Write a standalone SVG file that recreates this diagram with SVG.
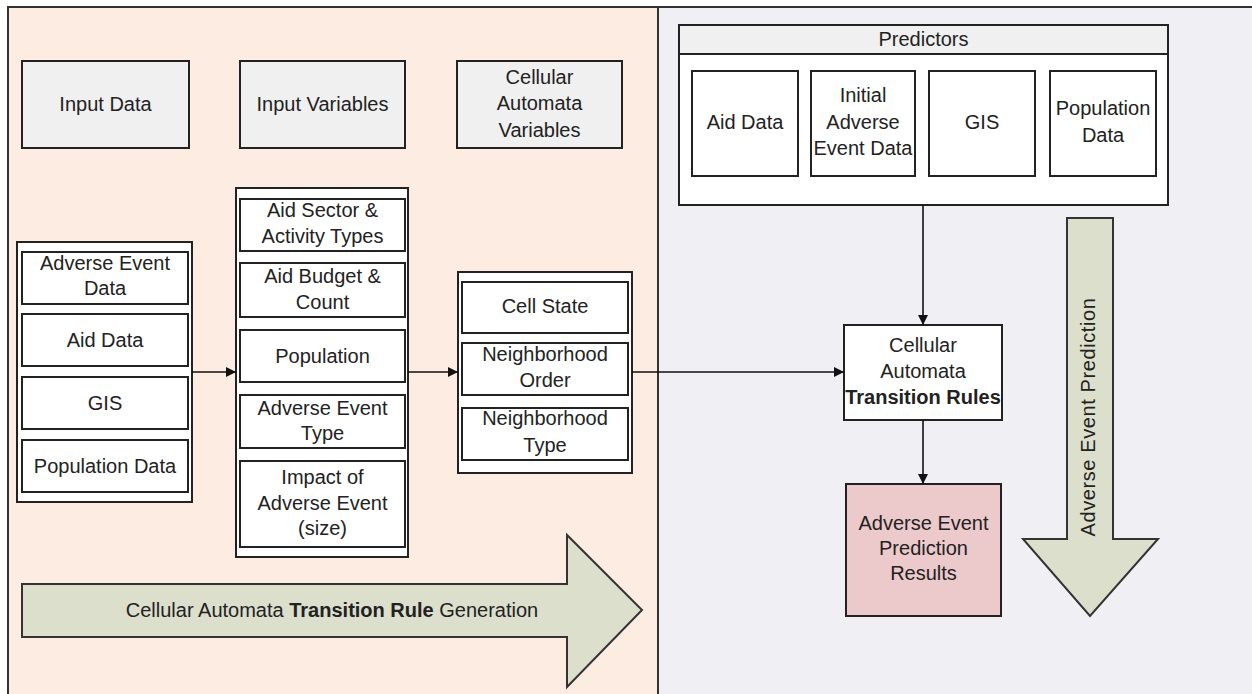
<svg xmlns="http://www.w3.org/2000/svg" width="1252" height="694" viewBox="0 0 1252 694">
<defs>
<style>
.t{font-family:"Liberation Sans",Arial,sans-serif;font-size:20px;fill:#222;text-anchor:middle}
.b{font-weight:bold}
.box{fill:#fff;stroke:#222;stroke-width:2}
.hdr{fill:#f0f0f0;stroke:#222;stroke-width:2}
.cont{fill:#fff;stroke:#222;stroke-width:2}
.big{fill:#dcdfcc;stroke:#333;stroke-width:2}
.con{stroke:#111;stroke-width:1.6;fill:none;marker-end:url(#ah)}
</style>
<marker id="ah" viewBox="0 0 10 10" refX="10" refY="5" markerWidth="10" markerHeight="10" markerUnits="userSpaceOnUse" orient="auto">
<path d="M0,0 L10,5 L0,10 z" fill="#111"/>
</marker>
</defs>
<rect x="0" y="0" width="1252" height="694" fill="#fff"/>
<rect x="8" y="7" width="650" height="687" fill="#fcece2"/>
<rect x="658" y="7" width="594" height="687" fill="#efeff4"/>
<path d="M8,694 V7 H1252 M658,7 V694" stroke="#333" stroke-width="2" fill="none"/>

<g id="input-data-header">
<rect class="hdr" x="22" y="61" width="167" height="87"/>
<text class="t" x="105.5" y="111">Input Data</text>
</g>
<g id="input-variables-header">
<rect class="hdr" x="240" y="61" width="165" height="87"/>
<text class="t" x="322.5" y="111">Input Variables</text>
</g>
<g id="ca-variables-header">
<rect class="hdr" x="457" y="61" width="165" height="87"/>
<text class="t" x="539.5" y="84">Cellular</text>
<text class="t" x="539.5" y="110">Automata</text>
<text class="t" x="539.5" y="137">Variables</text>
</g>

<g id="input-data">
<rect class="cont" x="17" y="242" width="175" height="260"/>
<rect class="box" x="22" y="252" width="166" height="52"/>
<text class="t" x="105" y="270">Adverse Event</text>
<text class="t" x="105" y="295">Data</text>
<rect class="box" x="22" y="314" width="166" height="52"/>
<text class="t" x="105" y="347">Aid Data</text>
<rect class="box" x="22" y="377" width="166" height="52"/>
<text class="t" x="105" y="410">GIS</text>
<rect class="box" x="22" y="440" width="166" height="52"/>
<text class="t" x="105" y="473">Population Data</text>
</g>

<g id="input-variables">
<rect class="cont" x="236" y="188" width="172" height="369"/>
<rect class="box" x="240" y="199" width="165" height="52"/>
<text class="t" x="322.5" y="217">Aid Sector &amp;</text>
<text class="t" x="322.5" y="243">Activity Types</text>
<rect class="box" x="240" y="263" width="165" height="54"/>
<text class="t" x="322.5" y="283">Aid Budget &amp;</text>
<text class="t" x="322.5" y="309">Count</text>
<rect class="box" x="240" y="330" width="165" height="52"/>
<text class="t" x="322.5" y="363">Population</text>
<rect class="box" x="240" y="395" width="165" height="53"/>
<text class="t" x="322.5" y="415">Adverse Event</text>
<text class="t" x="322.5" y="440">Type</text>
<rect class="box" x="240" y="461" width="165" height="86"/>
<text class="t" x="322.5" y="484">Impact of</text>
<text class="t" x="322.5" y="510">Adverse Event</text>
<text class="t" x="322.5" y="535">(size)</text>
</g>

<g id="ca-variables">
<rect class="cont" x="458" y="272" width="174" height="201"/>
<rect class="box" x="462" y="282" width="166" height="51"/>
<text class="t" x="545" y="313">Cell State</text>
<rect class="box" x="462" y="343" width="166" height="52"/>
<text class="t" x="545" y="361">Neighborhood</text>
<text class="t" x="545" y="387">Order</text>
<rect class="box" x="462" y="408" width="166" height="52"/>
<text class="t" x="545" y="425">Neighborhood</text>
<text class="t" x="545" y="452">Type</text>
</g>

<g id="predictors">
<rect class="cont" x="679" y="25" width="489" height="180"/>
<rect class="hdr" x="679" y="25" width="489" height="29"/>
<text class="t" x="923.5" y="46">Predictors</text>
<rect class="box" x="692" y="71" width="106" height="105"/>
<text class="t" x="745" y="129">Aid Data</text>
<rect class="box" x="811" y="71" width="104" height="105"/>
<text class="t" x="863" y="102">Initial</text>
<text class="t" x="863" y="129">Adverse</text>
<text class="t" x="863" y="155">Event Data</text>
<rect class="box" x="929" y="71" width="106" height="105"/>
<text class="t" x="982" y="129">GIS</text>
<rect class="box" x="1050" y="71" width="106" height="105"/>
<text class="t" x="1103" y="115">Population</text>
<text class="t" x="1103" y="142">Data</text>
</g>

<g id="transition-rules">
<rect class="box" x="844" y="325" width="158" height="95"/>
<text class="t" x="923" y="352">Cellular</text>
<text class="t" x="923" y="378">Automata</text>
<text class="t b" x="923" y="404">Transition Rules</text>
</g>

<g id="results">
<rect x="846" y="484" width="155" height="132" fill="#ecc9ca" stroke="#222" stroke-width="2"/>
<text class="t" x="923.5" y="530">Adverse Event</text>
<text class="t" x="923.5" y="555">Prediction</text>
<text class="t" x="923.5" y="580">Results</text>
</g>

<g id="generation-arrow">
<path class="big" d="M22,584 H567 V535 L642,610 L567,687 V637 H22 Z"/>
<text class="t" x="332" y="617">Cellular Automata <tspan class="b">Transition Rule</tspan> Generation</text>
</g>

<g id="prediction-arrow">
<path class="big" d="M1067,218 H1113 V539 H1158 L1090,616 L1023,539 H1067 Z"/>
<text class="t" x="1095" y="417" transform="rotate(-90 1095 417)" style="letter-spacing:0.6px">Adverse Event Prediction</text>
</g>

<g id="connectors">
<path class="con" d="M192,372 H236"/>
<path class="con" d="M408,372 H458"/>
<path class="con" d="M632,372 H844"/>
<path class="con" d="M923,205 V325"/>
<path class="con" d="M923,420 V484"/>
</g>
</svg>
